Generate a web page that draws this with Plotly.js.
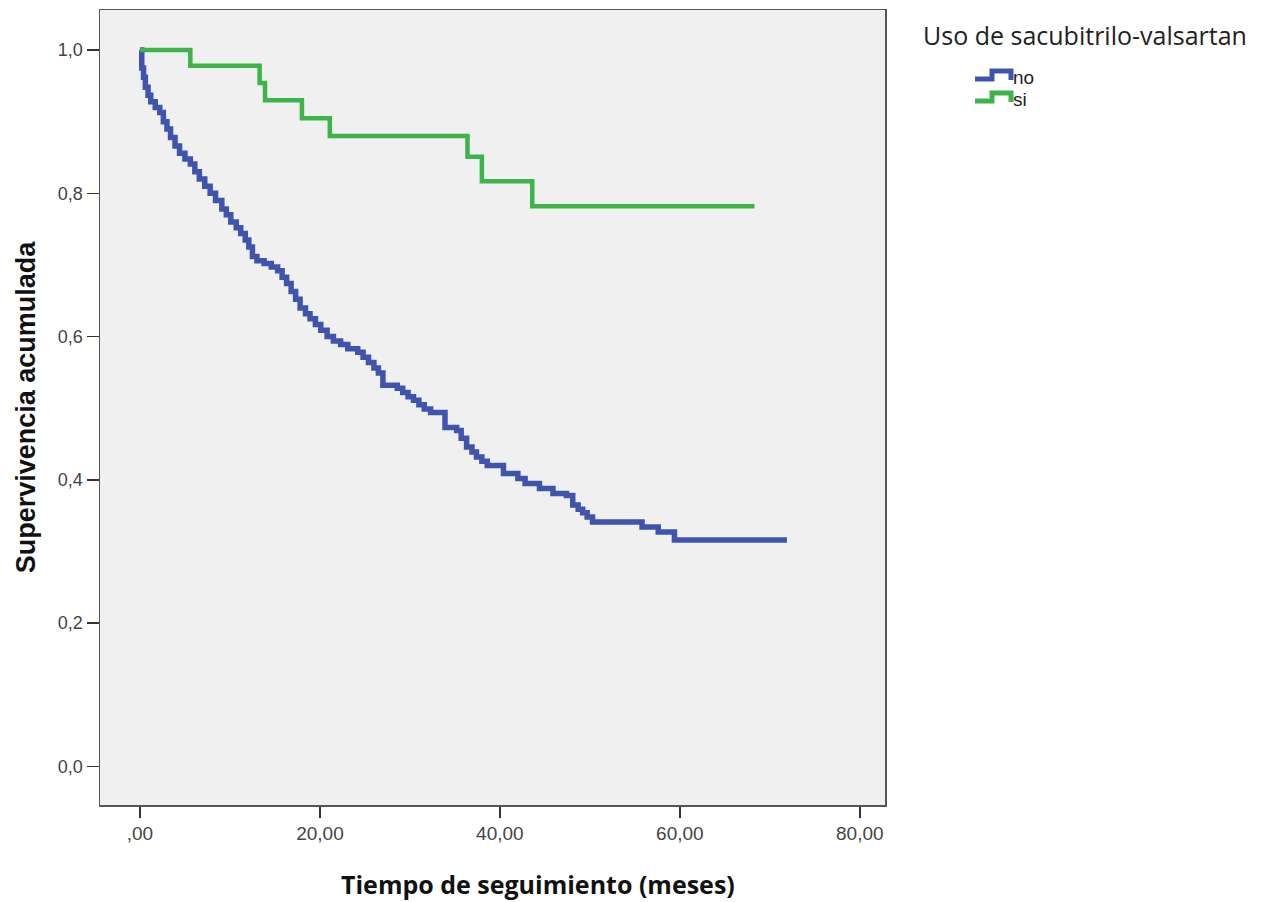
<!DOCTYPE html>
<html>
<head>
<meta charset="utf-8">
<script src="https://cdn.plot.ly/plotly-3.0.1.min.js"></script>
<style>html,body{margin:0;padding:0;background:#fff;}#chart{width:1272px;height:902px;}</style>
</head>
<body>
<div id="chart"></div>
<script>
// Kaplan-Meier step data
const legendTitle = "Uso de sacubitrilo-valsartan";
const xTitle = "Tiempo de seguimiento (meses)";
const yTitle = "Supervivencia acumulada";
const seriesNames = ["no", "si"];
const seriesColors = ["#3f55ad", "#3db449"];
const noTime = [
  0, 0.2, 0.4, 0.6, 0.9, 1.2, 1.7, 2.2, 2.6, 3.0,
  3.4, 3.9, 4.4, 5.0, 5.6, 6.1, 6.6, 7.2, 7.8, 8.4,
  9.1, 9.6, 10.1, 10.7, 11.2, 11.7, 12.1, 12.5, 13.0, 13.8,
  14.6, 15.3, 15.8, 16.3, 16.8, 17.3, 17.8, 18.4, 18.9, 19.5,
  20.1, 20.8, 21.5, 22.3, 23.1, 24.2, 24.8, 25.4, 26.0, 26.5,
  27.0, 28.6, 29.2, 29.8, 30.4, 31.0, 31.6, 32.3, 33.9, 35.2,
  35.7, 36.3, 36.9, 37.4, 38.0, 38.6, 40.4, 42.0, 42.8, 44.4,
  45.9, 47.4, 48.1, 48.7, 49.2, 49.7, 50.3, 55.8, 57.6, 59.4,
  71.9
];
const noSurv = [
  1.0, 0.975, 0.962, 0.948, 0.937, 0.928, 0.920, 0.913, 0.900, 0.890,
  0.878, 0.866, 0.856, 0.848, 0.841, 0.830, 0.820, 0.810, 0.800, 0.790,
  0.778, 0.770, 0.760, 0.752, 0.744, 0.735, 0.725, 0.712, 0.706, 0.702,
  0.697, 0.692, 0.683, 0.674, 0.663, 0.652, 0.640, 0.632, 0.625, 0.617,
  0.609, 0.600, 0.594, 0.589, 0.583, 0.578, 0.571, 0.564, 0.556, 0.549,
  0.532, 0.528, 0.522, 0.516, 0.511, 0.505, 0.499, 0.494, 0.473, 0.469,
  0.458, 0.446, 0.439, 0.432, 0.426, 0.420, 0.409, 0.402, 0.395, 0.388,
  0.381, 0.378, 0.365, 0.359, 0.354, 0.348, 0.341, 0.334, 0.327, 0.316,
  0.316
];
const siTime = [0, 5.6, 13.3, 13.9, 18.0, 21.1, 36.4, 38.0, 43.6, 68.3];
const siSurv = [1.0, 0.978, 0.954, 0.930, 0.905, 0.880, 0.851, 0.817, 0.782, 0.782];

const xTickVals = [0, 20, 40, 60, 80];
const xTickText = [",00", "20,00", "40,00", "60,00", "80,00"];
const yTickVals = [0, 0.2, 0.4, 0.6, 0.8, 1.0];
const yTickText = ["0,0", "0,2", "0,4", "0,6", "0,8", "1,0"];

const traces = [
  {x: noTime, y: noSurv, name: seriesNames[0], type: "scatter", mode: "lines",
   line: {shape: "hv", color: seriesColors[0], width: 5.5}},
  {x: siTime, y: siSurv, name: seriesNames[1], type: "scatter", mode: "lines",
   line: {shape: "hv", color: seriesColors[1], width: 4.5}}
];

// Custom legend (SPSS-like step icons), placed in paper coordinates
const W = 785, H = 795, L = 100, T = 10;
function px(x) { return (x - L) / W; }
function py(y) { return (T + H - y) / H; }
function stepIcon(y0, color) {
  const p = "M" + px(975) + "," + py(y0 + 1) + " L" + px(992) + "," + py(y0 + 1) +
            " L" + px(992) + "," + py(y0 - 7) + " L" + px(1011) + "," + py(y0 - 7) +
            " L" + px(1011) + "," + py(y0 + 2);
  return {type: "path", xref: "paper", yref: "paper", path: p,
          line: {color: color, width: 5}};
}
const legendRows = [78, 100];

const layout = {
  width: 1272, height: 902,
  margin: {l: L, r: 1272 - L - W, t: T, b: 902 - T - H},
  paper_bgcolor: "#ffffff",
  plot_bgcolor: "#f0f0f0",
  font: {family: "Liberation Sans, Arial, sans-serif", color: "#222"},
  showlegend: false,
  xaxis: {
    range: [-4.44, 82.8],
    tickvals: xTickVals, ticktext: xTickText,
    ticks: "outside", ticklen: 11, tickwidth: 1.5, tickcolor: "#333",
    showgrid: false, zeroline: false,
    showline: true, linecolor: "#555", linewidth: 1.5, mirror: true,
    tickfont: {size: 19, color: "#444"}
  },
  yaxis: {
    range: [-0.054, 1.056],
    tickvals: yTickVals, ticktext: yTickText,
    ticks: "outside", ticklen: 12, tickwidth: 1.5, tickcolor: "#333",
    showgrid: false, zeroline: false,
    showline: true, linecolor: "#555", linewidth: 1.5, mirror: true,
    tickfont: {size: 18, color: "#444"},
    title: {text: yTitle, standoff: 14,
            font: {family: "Liberation Sans, Arial, sans-serif", size: 27, color: "#111", weight: "bold"}}
  },
  shapes: [stepIcon(legendRows[0], seriesColors[0]), stepIcon(legendRows[1], seriesColors[1])],
  annotations: [
    {text: xTitle, xref: "paper", yref: "paper", x: px(538), y: py(884),
     xanchor: "center", yanchor: "middle", showarrow: false,
     font: {family: "Open Sans, sans-serif", size: 25, color: "#111", weight: "bold"}},
    {text: legendTitle, xref: "paper", yref: "paper", x: px(921), y: py(35),
     xanchor: "left", yanchor: "middle", showarrow: false,
     font: {family: "Open Sans, sans-serif", size: 25, color: "#222"}},
    {text: seriesNames[0], xref: "paper", yref: "paper", x: px(1011), y: py(legendRows[0]),
     xanchor: "left", yanchor: "middle", showarrow: false,
     font: {family: "Liberation Sans, Arial, sans-serif", size: 19, color: "#222"}},
    {text: seriesNames[1], xref: "paper", yref: "paper", x: px(1011), y: py(legendRows[1]),
     xanchor: "left", yanchor: "middle", showarrow: false,
     font: {family: "Liberation Sans, Arial, sans-serif", size: 19, color: "#222"}}
  ]
};

Plotly.newPlot("chart", traces, layout, {displayModeBar: false, staticPlot: true});
</script>
</body>
</html>
